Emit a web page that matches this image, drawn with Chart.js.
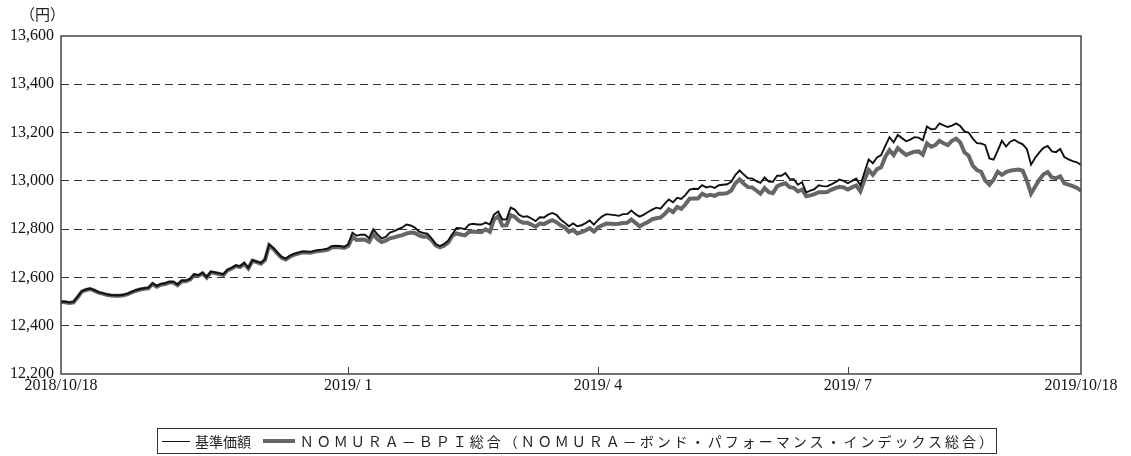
<!DOCTYPE html>
<html>
<head>
<meta charset="utf-8">
<script src="https://cdn.jsdelivr.net/npm/chart.js@4.4.0/dist/chart.umd.min.js"></script>
<style>
  body { margin: 0; background: #fff; }
  #wrap { position: relative; width: 1131px; height: 456px; }
  #unit { position: absolute; left: 20px; top: 3px; font: 15px 'Noto Sans CJK JP'; color: #222; }
  #legend { position: absolute; left: 157px; top: 428px; width: 838px; height: 24px; border: 1px solid #333;
            font: 14px 'Noto Sans CJK JP'; color: #222; display: flex; align-items: center; white-space: nowrap; }
  .swatch { display: inline-block; }
</style>
</head>
<body>
<div id="wrap">
  <canvas id="nav-chart" width="1131" height="456"></canvas>
  <div id="unit">（円）</div>
  <div id="legend"></div>
</div>
<script>
// series names
const seriesNames = ['基準価額', 'ＮＯＭＵＲＡ－ＢＰＩ総合（ＮＯＭＵＲＡ－ボンド・パフォーマンス・インデックス総合）']

// x tick positions (business day index) and their labels
const tickIndex = [0, 69, 129, 189, 245]
const tickLabels = ['2018/10/18', '2019/ 1', '2019/ 4', '2019/ 7', '2019/10/18']

// 基準価額
const navValues = [
    12500, 12499, 12496, 12499, 12520, 12543, 12550, 12554, 12547, 12539,
    12535, 12530, 12527, 12526, 12526, 12528, 12533, 12540, 12547, 12552,
    12555, 12558, 12576, 12565, 12573, 12576, 12582, 12582, 12571, 12587,
    12587, 12594, 12613, 12609, 12620, 12602, 12624, 12621, 12617, 12613,
    12632, 12640, 12650, 12646, 12660, 12640, 12672, 12666, 12660, 12675,
    12737, 12722, 12703, 12685, 12678, 12690, 12698, 12703, 12708, 12707,
    12706, 12711, 12714, 12716, 12719, 12729, 12731, 12730, 12727, 12737,
    12785, 12773, 12777, 12777, 12762, 12799, 12778, 12762, 12768, 12786,
    12792, 12800, 12807, 12819, 12815, 12807, 12790, 12784, 12781, 12762,
    12738, 12730, 12738, 12752, 12779, 12805, 12804, 12800, 12819, 12822,
    12819, 12819, 12827, 12819, 12860, 12873, 12840, 12841, 12889, 12881,
    12860, 12851, 12853, 12844, 12833, 12849, 12848, 12860, 12867, 12859,
    12840, 12827, 12812, 12824, 12812, 12816, 12825, 12836, 12819, 12838,
    12853, 12862, 12860, 12858, 12855, 12862, 12862, 12877, 12862, 12852,
    12860, 12871, 12881, 12889, 12885, 12905, 12923, 12911, 12930, 12925,
    12942, 12964, 12967, 12966, 12982, 12973, 12977, 12971, 12982, 12984,
    12986, 12996, 13025, 13043, 13026, 13011, 13010, 12999, 12992, 13014,
    12997, 12996, 13021, 13021, 13032, 13008, 13007, 12984, 12995, 12951,
    12960, 12966, 12982, 12978, 12977, 12985, 12995, 13005, 13000, 12990,
    13000, 13010, 12981, 13036, 13089, 13073, 13097, 13107, 13145, 13181,
    13160, 13190, 13177, 13164, 13171, 13181, 13179, 13168, 13225, 13214,
    13215, 13238, 13230, 13223, 13229, 13238, 13227, 13205, 13200, 13175,
    13156, 13155, 13148, 13093, 13088, 13125, 13166, 13142, 13162, 13170,
    13159, 13151, 13132, 13067, 13096, 13118, 13137, 13145, 13122, 13119,
    13132, 13099, 13089, 13082, 13077, 13066
]

// NOMURA-BPI総合
const bpiValues = [
    12498, 12497, 12494, 12497, 12518, 12541, 12548, 12552, 12545, 12537,
    12533, 12528, 12525, 12524, 12524, 12526, 12531, 12538, 12545, 12550,
    12553, 12555, 12573, 12562, 12570, 12573, 12579, 12579, 12568, 12584,
    12584, 12591, 12610, 12606, 12617, 12599, 12621, 12618, 12614, 12610,
    12629, 12637, 12647, 12643, 12657, 12637, 12669, 12663, 12657, 12672,
    12733, 12718, 12699, 12681, 12674, 12686, 12694, 12699, 12704, 12703,
    12702, 12707, 12709, 12711, 12714, 12724, 12726, 12725, 12722, 12730,
    12768, 12755, 12757, 12756, 12747, 12779, 12759, 12747, 12752, 12762,
    12766, 12771, 12775, 12782, 12786, 12784, 12774, 12768, 12768, 12755,
    12733, 12725, 12731, 12744, 12773, 12782, 12778, 12774, 12788, 12790,
    12788, 12788, 12799, 12789, 12840, 12853, 12815, 12816, 12858, 12851,
    12834, 12826, 12826, 12819, 12810, 12823, 12821, 12830, 12837, 12829,
    12816, 12807, 12789, 12797, 12782, 12788, 12795, 12804, 12790, 12807,
    12816, 12823, 12822, 12821, 12822, 12825, 12826, 12840, 12826, 12812,
    12821, 12830, 12841, 12845, 12848, 12862, 12882, 12871, 12892, 12884,
    12903, 12926, 12927, 12927, 12947, 12938, 12942, 12938, 12947, 12947,
    12949, 12960, 12990, 13006, 12988, 12974, 12973, 12960, 12947, 12970,
    12953, 12949, 12977, 12985, 12990, 12974, 12971, 12956, 12964, 12936,
    12940, 12945, 12953, 12953, 12954, 12963, 12970, 12975, 12973, 12964,
    12973, 12981, 12956, 13004, 13045, 13025, 13049, 13056, 13100, 13127,
    13107, 13136, 13121, 13107, 13115, 13121, 13122, 13108, 13155, 13141,
    13148, 13166, 13156, 13148, 13166, 13175, 13159, 13118, 13104, 13063,
    13045, 13038, 13001, 12984, 13005, 13038, 13025, 13036, 13042, 13045,
    13047, 13042, 13001, 12947, 12977, 13005, 13027, 13036, 13014, 13011,
    13019, 12990, 12984, 12978, 12971, 12960
]

const yMin = 12200
const yMax = 13600
const yStep = 200

const lineColors = ['#111111', '#666666']
const lineWidths = [1.9, 4]

function toPoints(values)
{
    return values.map((v, i) => ({ x: i, y: v }))
}

// frame around the plot area and the small inward ticks on the date axis
const framePlugin = {
    id: 'frame',
    afterDraw(chart)
    {
        const ctx = chart.ctx
        const area = chart.chartArea
        const xs = chart.scales.x
        ctx.save()
        ctx.strokeStyle = '#444'
        ctx.lineWidth = 1.5
        ctx.strokeRect(area.left, area.top, area.right - area.left, area.bottom - area.top)
        ctx.beginPath()
        tickIndex.slice(1, -1).forEach(i => {
            const px = Math.round(xs.getPixelForValue(i)) + 0.5
            ctx.moveTo(px, area.bottom)
            ctx.lineTo(px, area.bottom - 7)
        })
        ctx.lineWidth = 1
        ctx.stroke()
        ctx.restore()
    }
}

const chart = new Chart('nav-chart', {
    type: 'line',
    data: {
        datasets: [
            {
                label: seriesNames[0],
                data: toPoints(navValues),
                borderColor: lineColors[0],
                borderWidth: lineWidths[0],
                pointRadius: 0,
                tension: 0
            },
            {
                label: seriesNames[1],
                data: toPoints(bpiValues),
                borderColor: lineColors[1],
                borderWidth: lineWidths[1],
                pointRadius: 0,
                tension: 0
            }
        ]
    },
    options: {
        responsive: false,
        animation: false,
        layout: {
            padding: { left: 0, right: 50, top: 36, bottom: 52 }
        },
        plugins: {
            legend: { display: false },
            tooltip: { enabled: false }
        },
        scales: {
            x: {
                type: 'linear',
                min: 0,
                max: navValues.length - 1,
                grid: { display: false, drawTicks: false, tickLength: 0 },
                border: { display: false },
                afterBuildTicks: s => { s.ticks = tickIndex.map(v => ({ value: v })) },
                afterFit: s => { s.height = 30 },
                ticks: {
                    autoSkip: false,
                    maxRotation: 0,
                    padding: 2,
                    color: '#111',
                    font: { family: 'Liberation Serif', size: 16 },
                    callback: v => tickLabels[tickIndex.indexOf(v)]
                }
            },
            y: {
                min: yMin,
                max: yMax,
                afterFit: s => { s.width = 61 },
                grid: {
                    drawTicks: false,
                    color: c => (c.tick.value === yMin || c.tick.value === yMax) ? 'rgba(0,0,0,0)' : '#333',
                    lineWidth: 1
                },
                border: { display: false, dash: [8, 5] },
                ticks: {
                    stepSize: yStep,
                    padding: 7,
                    color: '#111',
                    font: { family: 'Liberation Serif', size: 16 },
                    callback: v => v.toLocaleString('en-US')
                }
            }
        }
    },
    plugins: [framePlugin]
})

// legend box under the chart, built from the datasets
const legend = document.getElementById('legend')
chart.data.datasets.forEach((ds, i) => {
    const sw = document.createElement('span')
    sw.className = 'swatch'
    sw.style.width = i === 0 ? '30px' : '34px'
    sw.style.borderTop = ds.borderWidth + 'px solid ' + ds.borderColor
    sw.style.marginLeft = i === 0 ? '4px' : '12px'
    const tx = document.createElement('span')
    tx.textContent = ds.label
    tx.style.marginLeft = '5px'
    if (i === 1) tx.style.letterSpacing = '3px'
    legend.appendChild(sw)
    legend.appendChild(tx)
})
</script>
</body>
</html>
